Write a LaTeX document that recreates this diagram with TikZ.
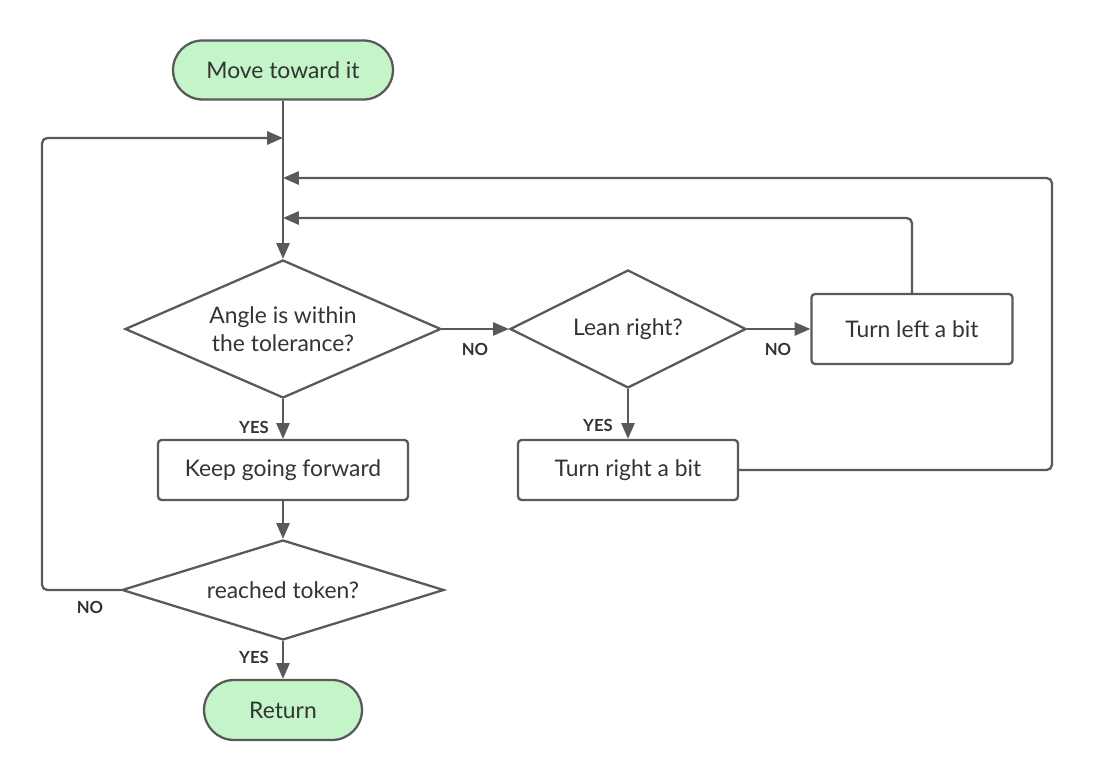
\documentclass[tikz,border=0pt]{standalone}
\usepackage{fontspec}
\setmainfont{Lato}
\usetikzlibrary{shapes.geometric,arrows.meta}
\definecolor{ln}{HTML}{595959}
\definecolor{gfill}{HTML}{C3F5C8}
\definecolor{txt}{HTML}{333333}
\tikzset{
  base/.style={draw=ln, line width=1.3pt, text=txt, font=\fontsize{13}{16}\selectfont, inner sep=0pt, align=center},
  term/.style={base, rounded corners=0.59cm, fill=gfill},
  proc/.style={base, rounded corners=2pt},
  dec/.style={base, diamond, aspect=2.3},
  arr/.style={draw=ln, line width=1.3pt, rounded corners=3pt, -{Triangle[length=9pt,width=7.5pt]}},
  lab/.style={text=txt, font=\bfseries\fontsize{9.5}{11}\selectfont, inner sep=0pt}
}
\begin{document}
\begin{tikzpicture}[x=0.02cm,y=-0.02cm]
\useasboundingbox (0,0) rectangle (1093,783);
\node[term, minimum width=4.4cm, minimum height=1.18cm] (start) at (283,70) {Move toward it};
\node[dec, minimum width=6.32cm, minimum height=2.76cm] (d1) at (283,329) {Angle is within\\the tolerance?};
\node[dec, minimum width=4.72cm, minimum height=2.36cm] (d2) at (628,329) {Lean right?};
\node[proc, minimum width=4.02cm, minimum height=1.4cm] (tl) at (912,329) {Turn left a bit};
\node[proc, minimum width=4.4cm, minimum height=1.2cm] (tr) at (628,470) {Turn right a bit};
\node[proc, minimum width=5cm, minimum height=1.2cm] (kg) at (283,470) {Keep going forward};
\node[dec, minimum width=6.44cm, minimum height=2cm] (d3) at (283,590) {reached token?};
\node[term, minimum width=3.16cm, minimum height=1.2cm, rounded corners=0.6cm] (ret) at (283,710) {Return};
\coordinate (m1) at (283,138);
\coordinate (m2) at (283,178);
\coordinate (m3) at (283,218);
\coordinate (c1) at (42,590);
\coordinate (c2) at (1052,470);
\draw[arr] (start) -- (d1);
\draw[arr] (d3.west) -- (c1) |- (m1);
\draw[arr] (tr.east) -- (c2) |- (m2);
\draw[arr] (tl.north) |- (m3);
\draw[arr] (d1.east) -- (d2.west);
\draw[arr] (d2.east) -- (tl.west);
\draw[arr] (d2.south) -- (tr.north);
\draw[arr] (d1.south) -- (kg.north);
\draw[arr] (kg.south) -- (d3.north);
\draw[arr] (d3.south) -- (ret.north);
\node[lab] (n1) at (475,349) {NO};
\node[lab] (n2) at (778,349) {NO};
\node[lab] (n3) at (90,607) {NO};
\node[lab] (y1) at (254,427) {YES};
\node[lab] (y2) at (598,425) {YES};
\node[lab] (y3) at (254,657) {YES};
\end{tikzpicture}
\end{document}
